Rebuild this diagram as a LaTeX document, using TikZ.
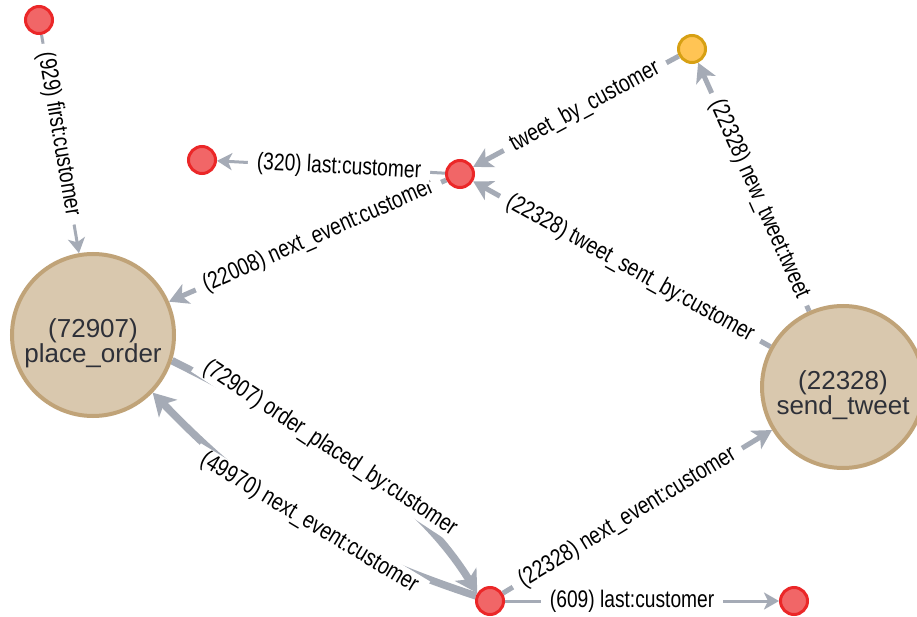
\documentclass[tikz,border=0pt]{standalone}
\usepackage{fontspec}
\usepackage{graphicx}
\setmainfont{Liberation Sans}
\usetikzlibrary{arrows.meta}
\definecolor{redfill}{HTML}{F16667}
\definecolor{redline}{HTML}{EB2728}
\definecolor{yelfill}{HTML}{FFC454}
\definecolor{yelline}{HTML}{D7A013}
\definecolor{tanfill}{HTML}{D9C8AE}
\definecolor{tanline}{HTML}{C0A378}
\definecolor{edgec}{HTML}{A5ABB6}
\definecolor{txtdark}{HTML}{2E3038}
\newcommand\condtext[1]{\scalebox{0.8}[1]{#1}}
\pgfdeclarelayer{bg}
\pgfsetlayers{bg,main}
\begin{document}
\begin{tikzpicture}[x=1pt,y=-1pt,
  small/.style={circle, draw=redline, fill=redfill, line width=3pt, minimum size=27pt, inner sep=0pt},
  smally/.style={small, draw=yelline, fill=yelfill},
  big/.style={circle, draw=tanline, fill=tanfill, line width=4pt, minimum size=162pt, inner sep=0pt},
  bigtext/.style={align=center, text=txtdark, font=\fontsize{26pt}{22pt}\selectfont, yshift=-8pt},
  rel/.style={draw=edgec},
  wthin/.style={rel, line width=3pt, -{Stealth[length=15pt,width=17pt,inset=4pt]}},
  wmid/.style={rel, line width=5pt, -{Stealth[length=19pt,width=21pt,inset=5pt]}},
  wfat/.style={rel, line width=7.5pt, -{Stealth[length=22pt,width=25pt,inset=6pt]}},
  lbl/.style={sloped, fill=white, text=black, inner xsep=9pt, inner ysep=1pt, font=\fontsize{24pt}{26pt}\selectfont},
]
\useasboundingbox (0,0) rectangle (917,617);

\node[small]  (r1) at (39,20) {};
\node[small]  (r2) at (202,160) {};
\node[small]  (r3) at (460,174) {};
\node[smally] (y)  at (692,49) {};
\node[small]  (r4) at (490,601) {};
\node[small]  (r5) at (794,601) {};
\node[big, label={[bigtext]center:{(72907)\\place\_order}}] (po) at (93,335) {};
\node[big, label={[bigtext]center:{(22328)\\send\_tweet}}] (st) at (843,387) {};

\begin{pgfonlayer}{bg}
\fill[white] (0,0) rectangle (917,617);
\draw[wthin] (r1) -- node[lbl, pos=0.455] {\condtext{(929) first:customer}} (po);
\draw[wmid] (r3) -- node[lbl, pos=0.461] {\condtext{(22008) next\_event:customer}} (po);
\draw[wthin] (r3) -- node[lbl, pos=0.465] {\condtext{(320) last:customer}} (r2);
\draw[wmid] (y) -- node[lbl, pos=0.456] {\condtext{tweet\_by\_customer}} (r3);
\draw[wmid] (st) -- node[lbl, pos=0.472] {\condtext{(22328) tweet\_sent\_by:customer}} (r3);
\draw[wmid] (st) -- node[lbl, pos=0.450] {\condtext{(22328) new\_tweet:tweet}} (y);
\draw[wfat] (po.-18) .. controls (297,424) and (409,483) .. node[lbl, pos=0.45] {\condtext{(72907) order\_placed\_by:customer}} (r4.148);
\draw[wfat] (r4.160) .. controls (334,549) and (257,501) .. node[lbl, pos=0.47] {\condtext{(49970) next\_event:customer}} (po.-44);
\draw[wmid] (r4) -- node[lbl, pos=0.463] {\condtext{(22328) next\_event:customer}} (st);
\draw[wthin] (r4) -- node[lbl, pos=0.464] {\condtext{(609) last:customer}} (r5);
\end{pgfonlayer}
\end{tikzpicture}
\end{document}
